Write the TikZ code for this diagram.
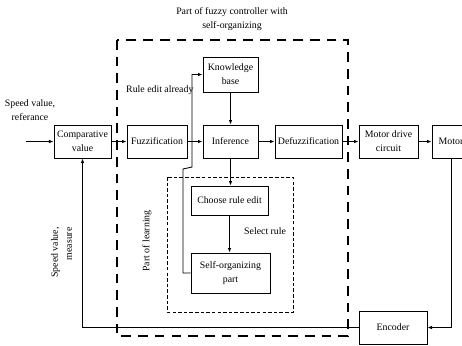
\documentclass[tikz,border=0pt]{standalone}
\usepackage{fontspec}
\setmainfont{Liberation Serif}
\usetikzlibrary{arrows.meta}

\begin{document}
\begin{tikzpicture}[x=0.02cm,y=-0.02cm,
    >={Latex[length=2.6pt,width=2pt]},
    every node/.style={font=\fontsize{5.6}{8}\selectfont},
    blk/.style={draw,line width=0.5pt,inner sep=0pt,align=center},
    wire/.style={line width=0.5pt}]
    \useasboundingbox (0,0) rectangle (462,345);
    % frames
    \draw[line width=1.1pt,dash pattern=on 5.5pt off 4pt] (117,40) rectangle (348,336);
    \draw[line width=0.5pt,dash pattern=on 2pt off 1.2pt] (167,177) rectangle (293,312);
    % blocks
    \node[blk,minimum width=1.14cm,minimum height=0.66cm] (comp) at (82.5,141.5) {Comparative\\value};
    \node[blk,minimum width=1.2cm,minimum height=0.66cm] (fuzz) at (157,141.5) {Fuzzification};
    \node[blk,minimum width=1.1cm,minimum height=0.66cm] (infer) at (230.5,141.5) {Inference};
    \node[blk,minimum width=1.1cm,minimum height=0.7cm] (know) at (230.5,74.5) {Knowledge\\base};
    \node[blk,minimum width=1.34cm,minimum height=0.66cm] (defuzz) at (308.5,141.5) {Defuzzification};
    \node[blk,minimum width=1.18cm,minimum height=0.66cm] (drive) at (388.5,141.5) {Motor drive\\circuit};
    \node[blk,minimum width=0.76cm,minimum height=0.66cm] (motor) at (451,141.5) {Motor};
    \node[blk,minimum width=1.36cm,minimum height=0.66cm] (enc) at (393,327.5) {Encoder};
    \node[blk,minimum width=1.54cm,minimum height=0.58cm] (choose) at (229.5,200.5) {Choose rule edit};
    \node[blk,minimum width=1.58cm,minimum height=0.8cm] (selforg) at (230.5,273) {Self-organizing\\part};
    % labels
    \node[align=center] (ttl) at (232,19) {Part of fuzzy controller with\\self-organizing};
    \node[anchor=west] (rule) at (120,90) {Rule edit already};
    \node[align=center] (ref) at (30,110) {Speed value,\\referance};
    \node[rotate=90,align=right] (meas) at (61.5,252.5) {Speed value,\\measure};
    \node[rotate=90] (learn) at (147,241) {Part of learning};
    \node[anchor=west] (sel) at (238,231) {Select rule};
    % signal flow
    \coordinate (in) at (26,141.5);
    \coordinate (lpa) at (183,169);
    \coordinate (lpb) at (192,167);
    \draw[wire,->] (in) -- (comp);
    \draw[wire,->] (comp) -- (fuzz);
    \draw[wire,->] (fuzz) -- (infer);
    \draw[wire,->] (infer) -- (defuzz);
    \draw[wire,->] (defuzz) -- (drive);
    \draw[wire,->] (drive) -- (motor);
    \draw[wire,->] (know) -- (infer);
    \draw[wire,->] (infer.south) -- (infer.south |- choose.north);
    \draw[wire,->] (choose.south) -- (choose.south |- selforg.north);
    \draw[wire,->] (selforg.west) -| (lpa) -- (lpb) |- (know.west);
    \draw[wire,->] (motor.south) |- (enc.east);
    \draw[wire,->] (enc.west) -| (comp.south);
\end{tikzpicture}
\end{document}
